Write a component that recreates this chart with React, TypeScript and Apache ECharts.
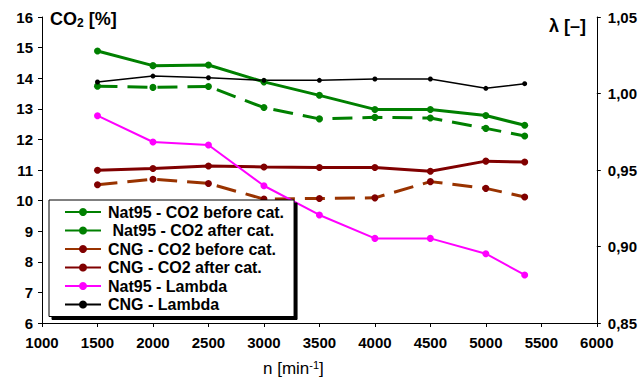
import React, { useEffect, useRef } from "react";
import * as echarts from "echarts";

const rpm = [1500, 2000, 2500, 3000, 3500, 4000, 4500, 5000, 5350];
const nat95Before = [13.74, 13.7, 13.73, 13.04, 12.67, 12.72, 12.7, 12.36, 12.11];
const nat95After = [14.89, 14.41, 14.43, 13.88, 13.44, 12.98, 12.98, 12.78, 12.46];
const cngBefore = [10.52, 10.7, 10.56, 10.05, 10.07, 10.09, 10.62, 10.4, 10.12];
const cngAfter = [10.99, 11.05, 11.13, 11.1, 11.08, 11.08, 10.96, 11.29, 11.26];
const nat95Lambda = [0.9855, 0.9683, 0.9663, 0.9397, 0.9206, 0.9053, 0.9053, 0.8953, 0.8814];
const cngLambda = [1.0075, 1.0114, 1.0103, 1.0086, 1.0086, 1.0095, 1.0095, 1.0034, 1.0064];

const legendNames = [
  "Nat95 - CO2 before cat.",
  " Nat95 - CO2 after cat.",
  "CNG - CO2 before cat.",
  "CNG - CO2 after cat.",
  "Nat95 - Lambda",
  "CNG - Lambda",
];

const pairs = (ys: number[]) => rpm.map((x, i) => [x, ys[i]]);

export default function App() {
  const ref = useRef<HTMLDivElement>(null);
  useEffect(() => {
    if (!ref.current) return;
    const chart = echarts.init(ref.current, null, { renderer: "svg" });
    const font = "Liberation Sans, Arial, sans-serif";
    const lbl = { fontFamily: font, fontWeight: "bold" as const, fontSize: 15, color: "#000" };
    const dash = [20, 10];
    chart.setOption({
      animation: false,
      backgroundColor: "#fff",
      grid: { left: 42, right: 43, top: 17, bottom: 57, containLabel: false },
      xAxis: {
        type: "value",
        min: 1000,
        max: 6000,
        interval: 500,
        axisLine: { show: true, lineStyle: { color: "#000", width: 1 } },
        axisTick: { show: true, length: 4, lineStyle: { color: "#000" } },
        splitLine: { show: false },
        axisLabel: { ...lbl, margin: 12, formatter: (v: number) => String(v) },
      },
      yAxis: [
        {
          type: "value",
          min: 6,
          max: 16,
          interval: 1,
          axisLine: { show: true, onZero: false, lineStyle: { color: "#000", width: 1 } },
          axisTick: { show: true, length: 4, lineStyle: { color: "#000" } },
          splitLine: { show: false },
          axisLabel: { ...lbl, margin: 9 },
        },
        {
          type: "value",
          position: "right",
          min: 0.85,
          max: 1.05,
          interval: 0.05,
          axisLine: { show: true, onZero: false, lineStyle: { color: "#000", width: 1 } },
          axisTick: { show: true, length: 4, lineStyle: { color: "#000" } },
          splitLine: { show: false },
          axisLabel: {
            ...lbl,
            margin: 11,
            formatter: (v: number) => v.toFixed(2).replace(".", ","),
          },
        },
      ],
      legend: {
        orient: "vertical",
        left: 49,
        top: 200,
        padding: [4, 10, 4, 15],
        itemGap: 2.5,
        itemWidth: 36,
        itemHeight: 10,
        backgroundColor: "#fff",
        borderColor: "#000",
        borderWidth: 1,
        borderRadius: 0,
        shadowColor: "#000",
        shadowOffsetX: 3,
        shadowOffsetY: 3,
        shadowBlur: 0,
        lineStyle: { type: "solid" },
        textStyle: { fontFamily: font, fontWeight: "bold", fontSize: 16, color: "#000", padding: [0, 0, 0, 2] },
        data: legendNames,
      },
      graphic: [
        {
          type: "text",
          left: 50,
          top: 10,
          style: {
            text: "{a|CO}{s|2}{a| [%]}",
            rich: {
              a: { fontFamily: font, fontWeight: "bold", fontSize: 18, fill: "#000" },
              s: { fontFamily: font, fontWeight: "bold", fontSize: 12, fill: "#000", verticalAlign: "bottom", padding: [7, 0, 0, 0] },
            },
          },
        },
        {
          type: "text",
          left: 549,
          top: 17,
          style: { text: "λ [–]", fontFamily: font, fontWeight: "bold", fontSize: 18, fill: "#000" },
        },
        {
          type: "text",
          left: 263,
          top: 359,
          style: {
            text: "{a|n [min}{s|-1}{a|]}",
            rich: {
              a: { fontFamily: font, fontSize: 17, fill: "#000" },
              s: { fontFamily: font, fontSize: 11, fill: "#000", verticalAlign: "top", padding: [0, 0, 8, 0] },
            },
          },
        },
      ],
      series: [
        {
          name: legendNames[0],
          type: "line",
          yAxisIndex: 0,
          data: pairs(nat95Before),
          symbol: "circle",
          symbolSize: 7,
          itemStyle: { color: "#008000" },
          lineStyle: { color: "#008000", width: 3, type: dash },
          z: 3,
        },
        {
          name: legendNames[1],
          type: "line",
          yAxisIndex: 0,
          data: pairs(nat95After),
          symbol: "circle",
          symbolSize: 7,
          itemStyle: { color: "#008000" },
          lineStyle: { color: "#008000", width: 3 },
          z: 3,
        },
        {
          name: legendNames[2],
          type: "line",
          yAxisIndex: 0,
          data: pairs(cngBefore),
          symbol: "circle",
          symbolSize: 7,
          itemStyle: { color: "#800000" },
          lineStyle: { color: "#993300", width: 3, type: dash },
          z: 3,
        },
        {
          name: legendNames[3],
          type: "line",
          yAxisIndex: 0,
          data: pairs(cngAfter),
          symbol: "circle",
          symbolSize: 7,
          itemStyle: { color: "#800000" },
          lineStyle: { color: "#800000", width: 3 },
          z: 3,
        },
        {
          name: legendNames[4],
          type: "line",
          yAxisIndex: 1,
          data: pairs(nat95Lambda),
          symbol: "circle",
          symbolSize: 7,
          itemStyle: { color: "#ff00ff" },
          lineStyle: { color: "#ff00ff", width: 2 },
          z: 3,
        },
        {
          name: legendNames[5],
          type: "line",
          yAxisIndex: 1,
          data: pairs(cngLambda),
          symbol: "circle",
          symbolSize: 5,
          itemStyle: { color: "#000" },
          lineStyle: { color: "#000", width: 1.5 },
          z: 3,
        },
      ],
    });
    return () => chart.dispose();
  }, []);
  return (
    <div
      ref={ref}
      style={{ position: "fixed", left: 0, top: 0, width: 640, height: 380, background: "#fff" }}
    />
  );
}
